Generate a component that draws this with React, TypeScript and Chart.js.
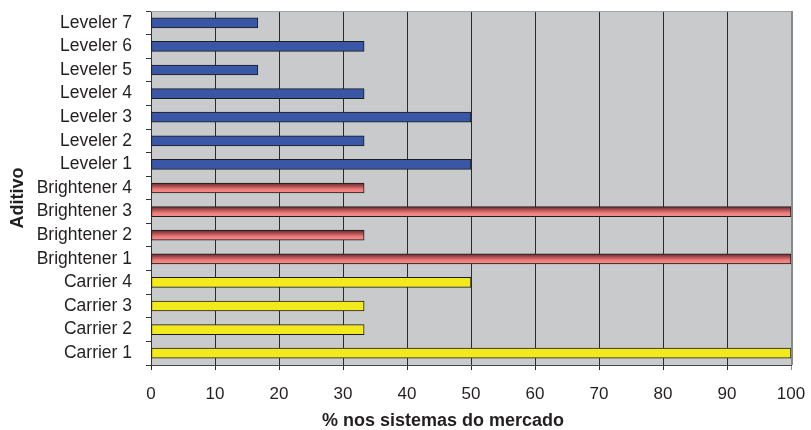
import { useEffect, useRef } from 'react';
import { Chart, registerables } from 'chart.js';

Chart.register(...registerables);

// Additive groups, listed bottom to top
const carrierLabels = ['Carrier 1', 'Carrier 2', 'Carrier 3', 'Carrier 4'];
const carrierValues = [100, 33.3, 33.3, 50];

const brightenerLabels = ['Brightener 1', 'Brightener 2', 'Brightener 3', 'Brightener 4'];
const brightenerValues = [100, 33.3, 100, 33.3];

const levelerLabels = ['Leveler 1', 'Leveler 2', 'Leveler 3', 'Leveler 4', 'Leveler 5', 'Leveler 6', 'Leveler 7'];
const levelerValues = [50, 33.3, 50, 33.3, 16.7, 33.3, 16.7];

const xMin = 0;
const xMax = 100;
const xStep = 10;

const yTitle = 'Aditivo';
const xTitle = '% nos sistemas do mercado';

const FONT = "'Liberation Sans', Arial, Helvetica, sans-serif";
const TEXT = '#231f20';
const PLOT_BG = '#c9cacc';

const labels = [...carrierLabels, ...brightenerLabels, ...levelerLabels];
const values = [...carrierValues, ...brightenerValues, ...levelerValues];
const groups = [
  ...carrierLabels.map(() => 'carrier'),
  ...brightenerLabels.map(() => 'brightener'),
  ...levelerLabels.map(() => 'leveler'),
];

const BAR_THICKNESS = 10;

// Grey plot background, light top edge and darker right edge
const plotFrame = {
  id: 'plotFrame',
  beforeDraw(chart: any) {
    const { ctx, chartArea: a } = chart;
    ctx.save();
    ctx.fillStyle = PLOT_BG;
    ctx.fillRect(a.left, a.top, a.right - a.left, a.bottom - a.top);
    ctx.restore();
  },
  beforeDatasetsDraw(chart: any) {
    const { ctx, chartArea: a } = chart;
    ctx.save();
    ctx.strokeStyle = '#a4a4a6';
    ctx.lineWidth = 1;
    ctx.beginPath();
    ctx.moveTo(a.left, Math.round(a.top) + 0.5);
    ctx.lineTo(a.right, Math.round(a.top) + 0.5);
    ctx.stroke();
    ctx.fillStyle = '#8a8a8c';
    ctx.fillRect(Math.round(a.right), a.top, 2, a.bottom - a.top);
    ctx.restore();
  },
};

// Axis titles, placed independently of the plot centre
const axisTitles = {
  id: 'axisTitles',
  afterDraw(chart: any) {
    const { ctx } = chart;
    ctx.save();
    ctx.fillStyle = TEXT;
    ctx.font = `bold 18px ${FONT}`;
    ctx.textAlign = 'center';
    ctx.textBaseline = 'alphabetic';
    ctx.fillText(xTitle, 443, 426);
    ctx.translate(18, 198);
    ctx.rotate(-Math.PI / 2);
    ctx.textBaseline = 'middle';
    ctx.fillText(yTitle, 0, 0);
    ctx.restore();
  },
};

function barColor(c: any) {
  const g = groups[c.dataIndex];
  if (g === 'leveler') return '#3a56a6';
  if (g === 'carrier') return '#f2ea1c';
  const chart = c.chart;
  const y = chart.scales && chart.scales.y;
  if (!y) return '#e27272';
  const cy = y.getPixelForValue(c.dataIndex);
  const grad = chart.ctx.createLinearGradient(0, cy - BAR_THICKNESS / 2, 0, cy + BAR_THICKNESS / 2);
  grad.addColorStop(0, '#5e2c2c');
  grad.addColorStop(0.3, '#a84c4c');
  grad.addColorStop(0.65, '#ee7e7e');
  grad.addColorStop(0.9, '#f48888');
  grad.addColorStop(1, '#d86a6a');
  return grad;
}

export default function App() {
  const ref = useRef<HTMLCanvasElement>(null);

  useEffect(() => {
    const canvas = ref.current;
    if (!canvas) return;
    Chart.defaults.color = TEXT;
    const chart = new Chart(canvas, {
      type: 'bar',
      data: {
        labels,
        datasets: [
          {
            data: values,
            backgroundColor: barColor,
            borderColor: '#1d1d1d',
            borderWidth: 1,
            borderSkipped: false,
            barThickness: BAR_THICKNESS,
          },
        ],
      },
      options: {
        indexAxis: 'y',
        responsive: false,
        animation: false,
        devicePixelRatio: 1,
        layout: { padding: { top: 11, right: 20, left: 0, bottom: 0 } },
        plugins: {
          legend: { display: false },
          tooltip: { enabled: false },
        },
        scales: {
          x: {
            min: xMin,
            max: xMax,
            ticks: {
              stepSize: xStep,
              padding: 14,
              color: TEXT,
              font: { family: FONT, size: 17 },
            },
            grid: {
              color: (c: any) => (c.tick && c.tick.value === xMax ? '#8a8a8c' : '#2b2b2b'),
              lineWidth: 1,
              drawTicks: true,
              tickLength: 5,
            },
            border: { display: true, color: '#444', width: 1 },
            title: { display: false },
            afterFit: (scale: any) => {
              scale.height = 65;
              scale.paddingLeft = 0;
              scale.paddingRight = 0;
            },
          },
          y: {
            reverse: true,
            ticks: {
              padding: 14,
              color: TEXT,
              font: { family: FONT, size: 17.5 },
              autoSkip: false,
            },
            grid: {
              drawOnChartArea: false,
              drawTicks: true,
              tickLength: 5,
              color: '#333',
            },
            border: { display: true, color: '#333', width: 1 },
            title: { display: false },
            afterFit: (scale: any) => {
              scale.width = 151;
              scale.paddingTop = 0;
              scale.paddingBottom = 0;
            },
          },
        },
      },
      plugins: [plotFrame, axisTitles],
    });
    return () => chart.destroy();
  }, []);

  return (
    <div style={{ position: 'absolute', left: 0, top: 0, width: 811, height: 430, background: '#fff' }}>
      <canvas ref={ref} width={811} height={430} style={{ display: 'block' }} />
    </div>
  );
}
